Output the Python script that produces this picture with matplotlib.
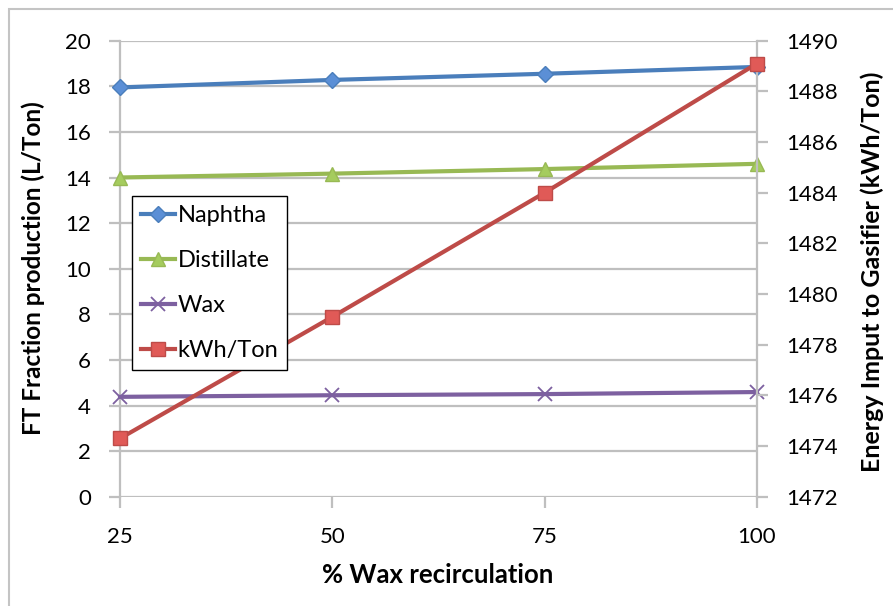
import matplotlib.pyplot as plt
from matplotlib.patches import Rectangle

plt.rcParams['font.family'] = ['Lato', 'DejaVu Sans']

wax_recirc = [25, 50, 75, 100]
naphtha = [17.95, 18.28, 18.55, 18.85]
distillate = [14.0, 14.17, 14.37, 14.6]
wax = [4.38, 4.45, 4.5, 4.59]
kwh_ton = [1474.3, 1479.1, 1484.0, 1489.1]

left_ticks = list(range(0, 21, 2))
right_ticks = list(range(1472, 1491, 2))

W, H = 893, 606
fig = plt.figure(figsize=(W / 100, H / 100), dpi=100)

# outer chart border (only top and left visible in the crop)
fig.patches.append(Rectangle((9 / W, -0.1), 1.2, 1 - 9 / H + 0.1, transform=fig.transFigure,
                             fill=False, edgecolor='#c4c4c4', linewidth=1.5))

ax = fig.add_axes([120 / W, 1 - 496.7 / H, (757 - 120) / W, (496.7 - 40.7) / H])
ax2 = ax.twinx()

grid_c = '#bfbfbf'
ax.set_xlim(25, 100)
ax.set_ylim(0, 20)
ax.set_xticks(wax_recirc)
ax.set_yticks(left_ticks)
ax2.set_ylim(1472, 1490)
ax2.set_yticks(right_ticks)
ax.yaxis.grid(True, color=grid_c, linewidth=1.6)
ax.set_axisbelow(True)

for a in (ax, ax2):
    for s in a.spines.values():
        s.set_visible(False)
    a.tick_params(colors=grid_c, labelcolor='black', labelsize=16, length=8, width=1.6, pad=13)
ax.spines['left'].set_visible(True)
ax.spines['left'].set_color(grid_c)
ax.spines['left'].set_linewidth(1.6)
ax2.spines['right'].set_visible(True)
ax2.spines['right'].set_color(grid_c)
ax2.spines['right'].set_linewidth(1.6)
ax.tick_params(axis='x', pad=14)

l1, = ax.plot(wax_recirc, naphtha, color='#4a7ebb', linewidth=3, marker='D', markersize=8,
              markerfacecolor='#5b8fd6', markeredgecolor='#4a7ebb', label='Naphtha', clip_on=False, zorder=3)
l2, = ax.plot(wax_recirc, distillate, color='#98b954', linewidth=3, marker='^', markersize=10,
              markerfacecolor='#a5cc5e', markeredgecolor='#98b954', label='Distillate', clip_on=False, zorder=3)
l3, = ax.plot(wax_recirc, wax, color='#7d60a0', linewidth=3, marker='x', markersize=10,
              markeredgewidth=1.3, label='Wax', clip_on=False, zorder=3)
l4, = ax2.plot(wax_recirc, kwh_ton, color='#be4b48', linewidth=3, marker='s', markersize=10,
               markerfacecolor='#e05a57', markeredgecolor='#be4b48', label='kWh/Ton', clip_on=False, zorder=3)

leg = ax2.legend(handles=[l1, l2, l3, l4], loc='upper left',
                 bbox_to_anchor=(132 / W, 1 - 196 / H), bbox_transform=fig.transFigure,
                 fontsize=17, frameon=True, fancybox=False, framealpha=1, edgecolor='black',
                 handlelength=1.45, handletextpad=0.1, labelspacing=1.02, borderpad=0.38,
                 borderaxespad=0)
leg.get_frame().set_linewidth(1.0)

fig.text(438 / W, 1 - 575 / H, '% Wax recirculation', ha='center', va='center',
         fontsize=18.5, fontweight='bold')
fig.text(33 / W, 1 - 268 / H, 'FT Fraction production (L/Ton)', ha='center', va='center',
         rotation=90, fontsize=17.5, fontweight='bold')
fig.text(872 / W, 1 - 272 / H, 'Energy Imput to Gasifier (kWh/Ton)', ha='center', va='center',
         rotation=90, fontsize=18, fontweight='bold')

fig.savefig('out.png', dpi=100)
